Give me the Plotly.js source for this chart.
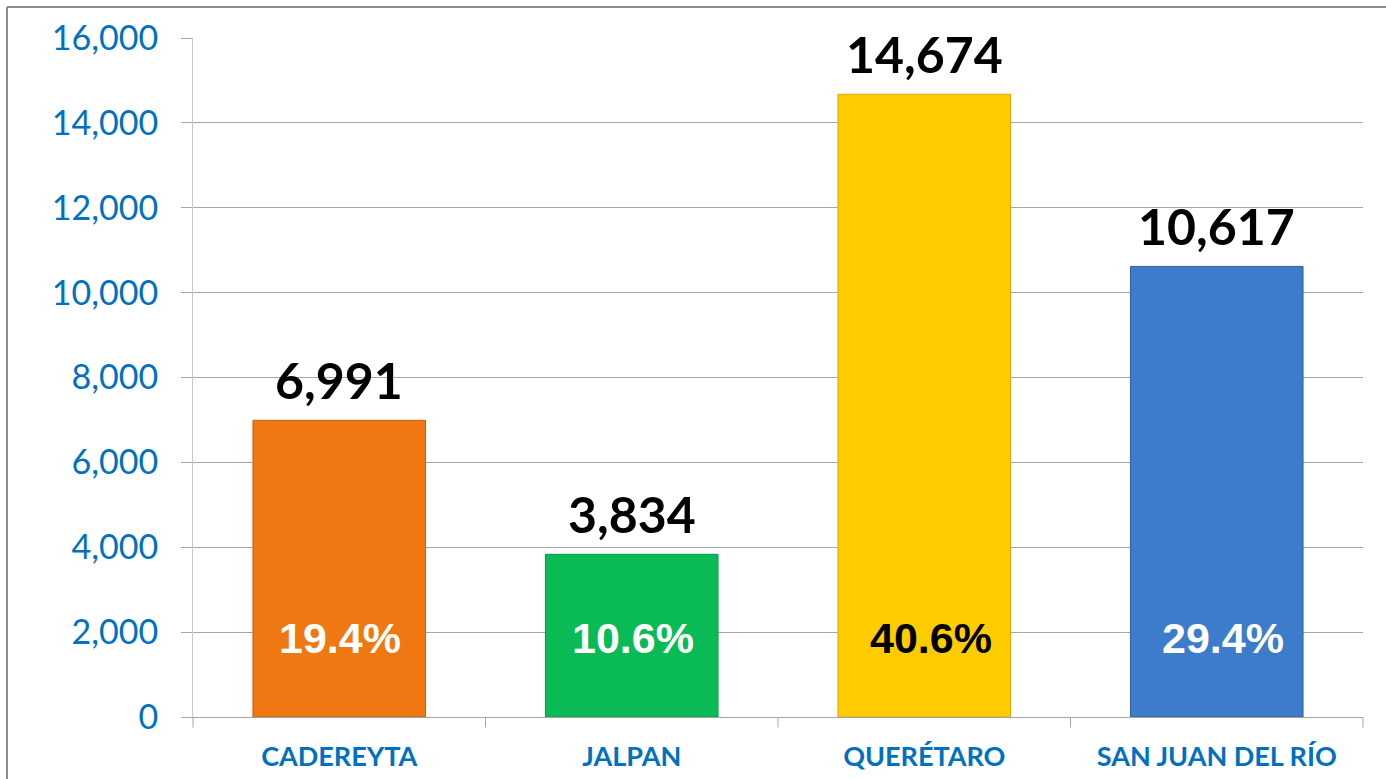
<!DOCTYPE html>
<html>
<head>
<meta charset="utf-8">
<script src="https://cdn.plot.ly/plotly-3.0.1.min.js"></script>
<style>
html,body{margin:0;padding:0;background:#fff;}
#chart{width:1386px;height:779px;}
</style>
</head>
<body>
<div id="chart"></div>
<script>
const categories = ["CADEREYTA", "JALPAN", "QUERÉTARO", "SAN JUAN DEL RÍO"];
const values = [6991, 3834, 14674, 10617];
const valueLabels = ["6,991", "3,834", "14,674", "10,617"];
const percentLabels = ["19.4%", "10.6%", "40.6%", "29.4%"];
const barColors = ["#F07812", "#0ABB55", "#FFCC00", "#3D7BCB"];
const edgeColors = ["#C8600C", "#089848", "#D9A800", "#2E5E9E"];
const percentColors = ["#FFFFFF", "#FFFFFF", "#000000", "#FFFFFF"];
const yTickVals = [0, 2000, 4000, 6000, 8000, 10000, 12000, 14000, 16000];
const yTickText = ["0", "2,000", "4,000", "6,000", "8,000", "10,000", "12,000", "14,000", "16,000"];

const trace = {
  type: "bar",
  x: categories,
  y: values,
  marker: {color: barColors, line: {color: edgeColors, width: 1}},
  hoverinfo: "x+y",
  showlegend: false
};

const annotations = [];
categories.forEach((c, i) => {
  annotations.push({
    x: c, y: values[i], xref: "x", yref: "y",
    text: valueLabels[i], showarrow: false,
    yanchor: "middle", yshift: 40,
    font: {family: "Lato, 'Open Sans', sans-serif", size: 50, color: "#000000", weight: 700}
  });
  annotations.push({
    x: c, y: 0, xref: "x", yref: "y",
    text: percentLabels[i], showarrow: false,
    yanchor: "middle", yshift: 79, xshift: (i === 2 ? 7 : (i === 3 ? 6 : 1)),
    font: {family: "'Liberation Sans', Arial, sans-serif", size: 43, color: percentColors[i], weight: 700}
  });
});

const layout = {
  width: 1386, height: 779,
  margin: {l: 193, r: 23, t: 38, b: 62},
  paper_bgcolor: "#FFFFFF",
  plot_bgcolor: "#FFFFFF",
  bargap: 0.41,
  xaxis: {
    type: "category",
    showgrid: false,
    showline: true, linecolor: "#A6A6A6", linewidth: 1,
    ticks: "",
    tickfont: {family: "Lato, 'Open Sans', sans-serif", size: 27, color: "#0070C0", weight: 700},
    ticklabelstandoff: 16,
    zeroline: false,
    fixedrange: true
  },
  yaxis: {
    range: [0, 16000],
    tickvals: yTickVals, ticktext: yTickText,
    showgrid: true, gridcolor: "#A6A6A6", gridwidth: 1,
    showline: true, linecolor: "#C8C8C8", linewidth: 1,
    ticks: "outside", ticklen: 11, tickcolor: "#A6A6A6",
    tickfont: {family: "Lato, 'Open Sans', sans-serif", size: 34, color: "#0070C0"},
    ticklabelstandoff: 16,
    zeroline: false,
    fixedrange: true
  },
  annotations: annotations,
  shapes: [
    ...[0, 1, 2, 3, 4].map(k => ({
      type: "line", xref: "paper", yref: "paper",
      x0: k / 4, x1: k / 4, y0: 0, y1: -0.0155,
      line: {color: "#A6A6A6", width: 1}
    })),
    {type: "line", xref: "paper", yref: "paper",
     x0: (7 - 193) / 1170, x1: (7 - 193) / 1170, y0: (717 - 779) / 679, y1: (717 - 7) / 679,
     line: {color: "#8C8C8C", width: 2}},
    {type: "line", xref: "paper", yref: "paper",
     x0: (7 - 193) / 1170, x1: (1386 - 193) / 1170, y0: (717 - 7) / 679, y1: (717 - 7) / 679,
     line: {color: "#8C8C8C", width: 2}}
  ]
};

Plotly.newPlot("chart", [trace], layout, {displayModeBar: false, staticPlot: true});
</script>
</body>
</html>
